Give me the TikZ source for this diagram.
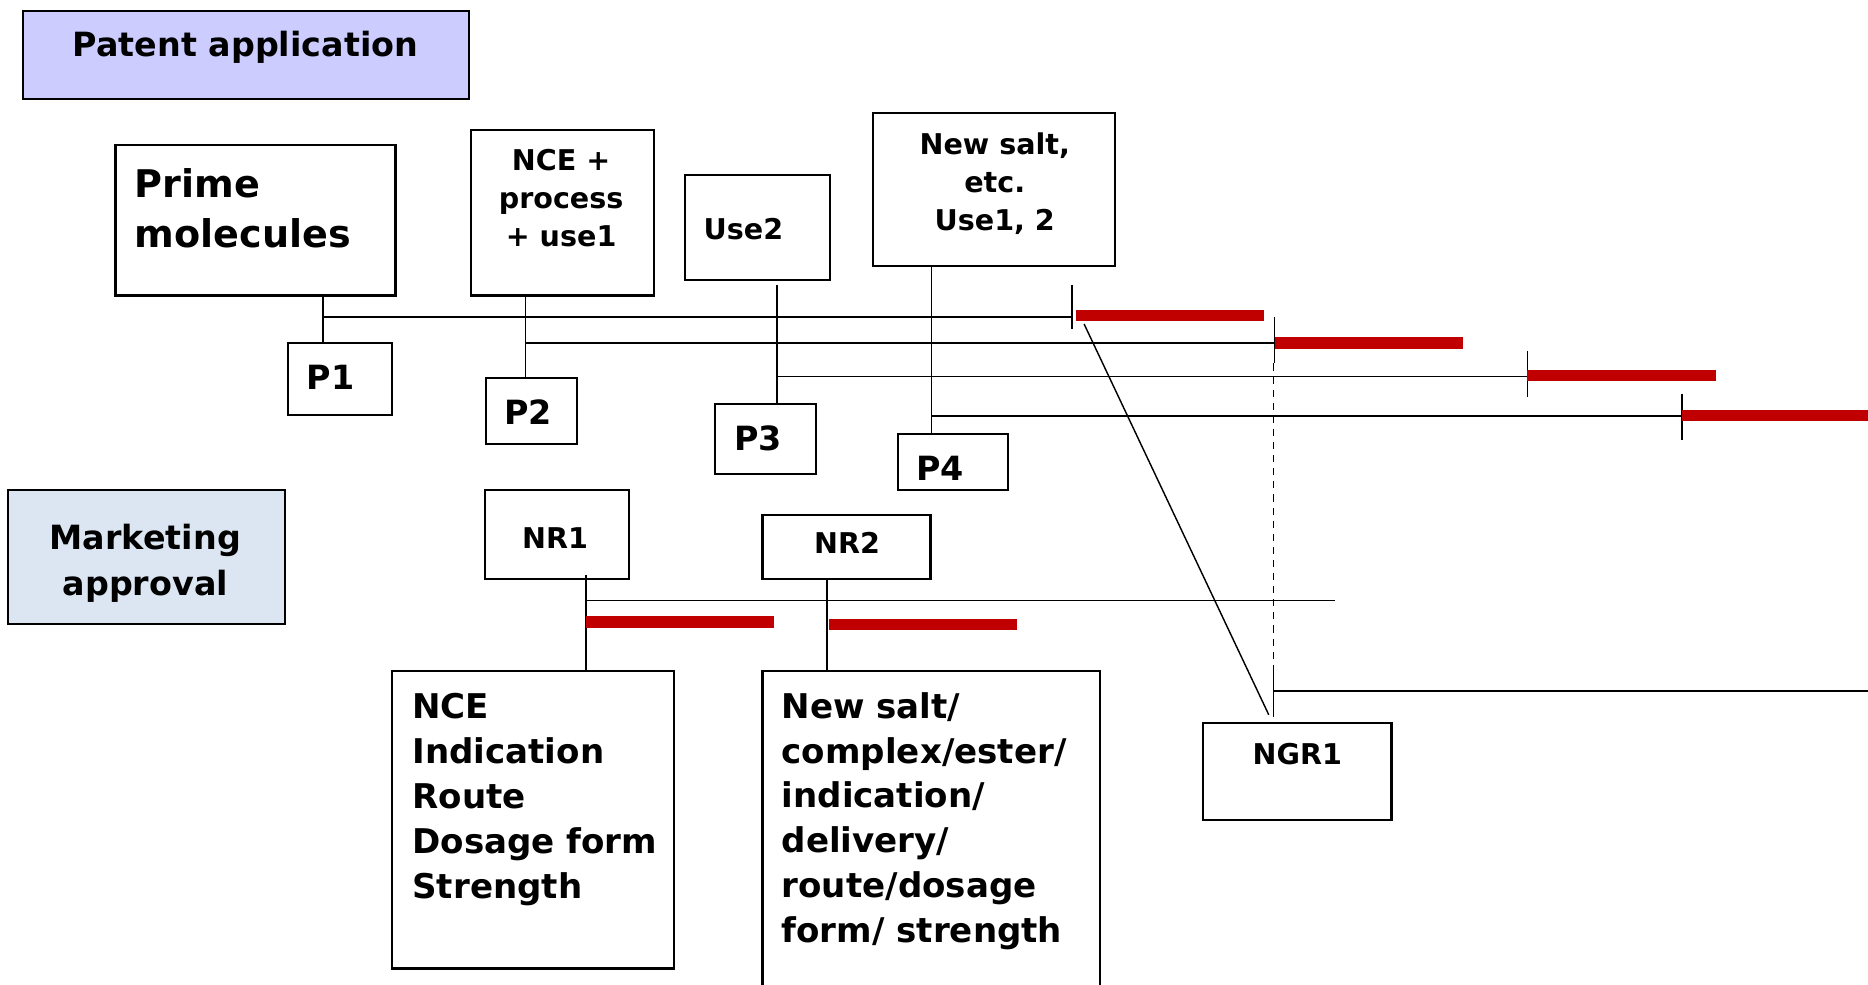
\documentclass[tikz,border=0pt]{standalone}
\usepackage{fontspec}
\setmainfont{DejaVu Sans}
\usetikzlibrary{calc}
\definecolor{patfill}{HTML}{CCCCFF}
\definecolor{mktfill}{HTML}{DCE6F2}
\definecolor{barred}{HTML}{C00000}
\begin{document}
\begin{tikzpicture}[x=1pt,y=-1pt,
  box/.style={draw=black,line width=1.8pt,inner sep=0pt,outer sep=0pt},
  conn/.style={draw=black,line width=1.4pt},
  tick/.style={draw=black,line width=1.2pt},
  bar/.style={draw=barred,line width=9.5pt},
  dashline/.style={draw=black,line width=1.2pt,dash pattern=on 6pt off 5pt},
  ts/.style={inner sep=0pt,font=\bfseries\fontsize{24}{32}\selectfont},
  tm/.style={inner sep=0pt,font=\bfseries\fontsize{28}{38}\selectfont},
  tl/.style={inner sep=0pt,font=\bfseries\fontsize{32}{42}\selectfont},
  tlist/.style={inner sep=0pt,font=\bfseries\fontsize{28.6}{37.6}\selectfont},
]
\useasboundingbox (0,0) rectangle (1568,826);
\clip (0,0) rectangle (1568,826);
\fill[white] (0,0) rectangle (1568,826);

% boxes
\node[box,fill=patfill,minimum width=375pt,minimum height=74pt] (pat) at (206.5,46) {};
\node[box,minimum width=235pt,minimum height=126pt] (prime) at (214.5,185) {};
\node[box,minimum width=154pt,minimum height=139pt] (nce) at (472,178.5) {};
\node[box,minimum width=122pt,minimum height=88pt] (use2) at (636,191) {};
\node[box,minimum width=203pt,minimum height=128pt] (salt) at (834.5,159) {};
\node[box,minimum width=87pt,minimum height=60pt] (p1) at (285.5,318) {};
\node[box,minimum width=76pt,minimum height=56pt] (p2) at (446,345) {};
\node[box,minimum width=85pt,minimum height=59pt] (p3) at (642.5,368.5) {};
\node[box,minimum width=92pt,minimum height=47pt] (p4) at (800,387.5) {};
\node[box,fill=mktfill,minimum width=232pt,minimum height=113pt] (mkt) at (123,467.5) {};
\node[box,minimum width=121pt,minimum height=75pt] (nr1) at (467.5,448.5) {};
\node[box,minimum width=141pt,minimum height=54pt] (nr2) at (710.5,459) {};
\node[box,minimum width=237pt,minimum height=250pt] (ncel) at (447.5,688) {};
\node[box,minimum width=283pt,minimum height=287pt] (saltl) at (781.5,706.5) {};
\node[box,minimum width=158pt,minimum height=81pt] (ngr) at (1089,647.5) {};

% texts
\node[tm,anchor=north] (tpat) at (206,26) {Patent application};
\node[tl,anchor=north west,align=left] (tprime) at (113,141) {Prime\\molecules};
\node[ts,anchor=north,align=center] (tnce) at (471,125) {NCE +\\process\\+ use1};
\node[ts,anchor=base] (tuse2) at (624,201) {Use2};
\node[ts,anchor=north,align=center] (tsalt) at (835,111) {New salt,\\etc.\\Use1, 2};
\node[tm,anchor=base] (tp1) at (277.5,327) {P1};
\node[tm,anchor=base] (tp2) at (443.5,356) {P2};
\node[tm,anchor=base] (tp3) at (636.5,378) {P3};
\node[tm,anchor=base] (tp4) at (789,403) {P4};
\node[tm,anchor=north,align=center] (tmkt) at (122,440) {Marketing\\approval};
\node[ts,anchor=base] (tnr1) at (466,460) {NR1};
\node[ts,anchor=base] (tnr2) at (711,465) {NR2};
\node[ts,anchor=base] (tngr) at (1089,642) {NGR1};
\node[tlist,anchor=north west,align=left] (tncel) at (346,582) {NCE\\Indication\\Route\\Dosage form\\Strength};
\node[tlist,anchor=north west,align=left] (tsaltl) at (656,581) {New salt/\\complex/ester/\\indication/\\delivery/\\route/dosage\\form/ strength};

% junction coordinates
\coordinate (j1) at (271,266);
\coordinate (j2) at (441,288);
\coordinate (j3) at (652,316);
\coordinate (j4) at (782,349);
\coordinate (e1) at (900,266);
\coordinate (e2) at (1070,288);
\coordinate (e3) at (1282,316);
\coordinate (e4) at (1412,349);
\coordinate (u3) at (652,239);

% vertical stems
\draw[conn] (j1 |- prime.south) -- (j1 |- p1.north);
\draw[conn] (j2 |- nce.south) -- (j2 |- p2.north);
\draw[conn] (u3) -- (j3 |- p3.north);
\draw[conn] (j4 |- salt.south) -- (j4 |- p4.north);

% horizontal lines
\draw[conn] (j1) -- (e1);
\draw[conn] (j2) -- (e2);
\draw[conn] (j3) -- (e3);
\draw[conn] (j4) -- (e4);

% ticks
\draw[tick] ($(e1)+(0,-27)$) -- ($(e1)+(0,10)$);
\draw[tick] ($(e2)+(0,-22)$) -- ($(e2)+(0,17)$);
\draw[tick] ($(e3)+(0,-21)$) -- ($(e3)+(0,17)$);
\draw[tick] ($(e4)+(0,-18)$) -- ($(e4)+(0,20)$);

% red bars
\coordinate (r1a) at (903,265); \coordinate (r1b) at (1061,265);
\coordinate (r2a) at (1070,288); \coordinate (r2b) at (1228,288);
\coordinate (r3a) at (1282,315); \coordinate (r3b) at (1440,315);
\coordinate (r4a) at (1412,349); \coordinate (r4b) at (1570,349);
\draw[bar] (r1a) -- (r1b);
\draw[bar] (r2a) -- (r2b);
\draw[bar] (r3a) -- (r3b);
\draw[bar] (r4a) -- (r4b);

% NGR linkage
\coordinate (s1) at (910,272);
\coordinate (s2) at (1065,600);
\draw[tick] (s1) -- (s2);
\coordinate (g0) at (1069,305);
\coordinate (g1) at (1069,562);
\coordinate (g2) at (1069,602);
\coordinate (gj) at (1069,580);
\coordinate (ge) at (1570,580);
\draw[dashline] (g0) -- (g1);
\draw[tick] (g1) -- (g2);
\draw[conn] (gj) -- (ge);

% marketing approval lines
\coordinate (k1) at (492,504);
\coordinate (k1e) at (1121,504);
\draw[conn] ($(k1 |- nr1.south)+(0,-3)$) -- (k1 |- ncel.north);
\draw[conn] (k1) -- (k1e);
\coordinate (k2) at (694,524);
\draw[conn] (k2 |- nr2.south) -- (k2 |- saltl.north);
\coordinate (m1a) at (492,522); \coordinate (m1b) at (650,522);
\coordinate (m2a) at (696,524); \coordinate (m2b) at (854,524);
\draw[bar] (m1a) -- (m1b);
\draw[bar] (m2a) -- (m2b);
\end{tikzpicture}
\end{document}
